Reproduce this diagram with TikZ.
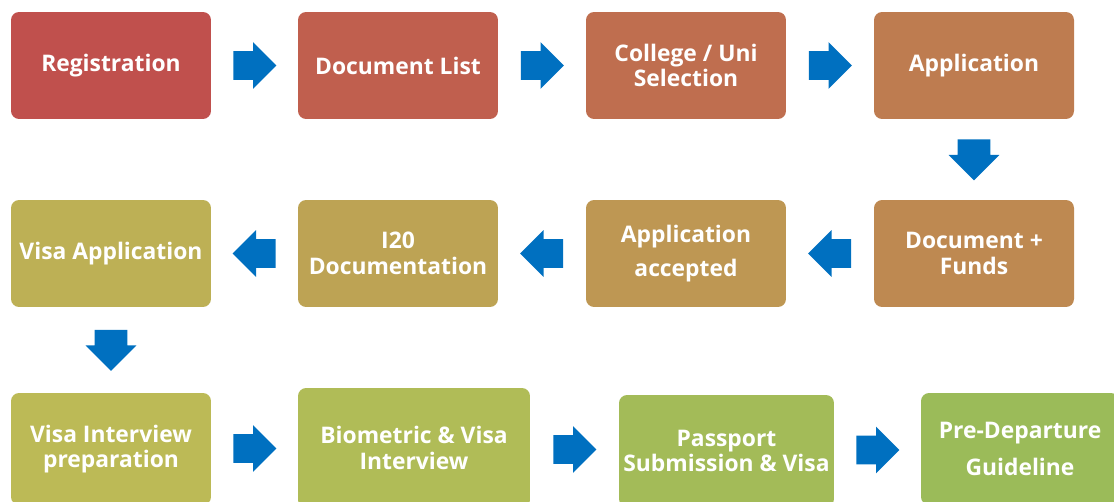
\documentclass[tikz,border=0pt]{standalone}
\usepackage{fontspec}
\setmainfont{Open Sans}
\usetikzlibrary{shapes.arrows,calc}

\definecolor{stage0}{HTML}{C0504D}
\definecolor{stage1}{HTML}{C05F4E}
\definecolor{stage2}{HTML}{BF6E4F}
\definecolor{stage3}{HTML}{BE7C50}
\definecolor{stage4}{HTML}{BE8951}
\definecolor{stage5}{HTML}{BE9753}
\definecolor{stage6}{HTML}{BDA354}
\definecolor{stage7}{HTML}{BDB055}
\definecolor{stage8}{HTML}{BCBA56}
\definecolor{stage9}{HTML}{B0BC57}
\definecolor{stage10}{HTML}{A3BB58}
\definecolor{stage11}{HTML}{9BBB59}
\definecolor{flowblue}{HTML}{0070C0}

\begin{document}
\begin{tikzpicture}[
    x=0.02cm,
    y=-0.02cm,
    stage/.style={
        fill=#1,
        rounded corners=0.16cm,
        text=white,
        font=\bfseries\fontsize{13}{14.7}\selectfont,
        align=center,
        minimum width=4cm,
        minimum height=2.14cm,
        inner sep=0pt
    },
    flow/.style={
        single arrow,
        fill=flowblue,
        anchor=tail,
        minimum height=0.86cm,
        inner xsep=0pt,
        inner ysep=0.28cm,
        single arrow head extend=0.18cm
    },
    flowback/.style={
        flow,
        rotate=180
    },
    flowdown/.style={
        flow,
        rotate=-90,
        minimum height=0.82cm,
        inner ysep=0.32cm
    }
    ]
    \useasboundingbox (0,0) rectangle (1114,502);
    \clip (0,0) rectangle (1114,502);

    % first row
    \node[stage=stage0] (reg)     at (111,65.5) {Registration};
    \node[stage=stage1] (doclist) at (398,65.5) {Document List};
    \node[stage=stage2] (select)  at (686,65.5) {College / Uni\\Selection};
    \node[stage=stage3] (apply)   at (974,65.5) {Application};

    % second row
    \node[stage=stage4] (docfund) at (974,253.5) {Document +\\Funds};
    \node[stage=stage5] (accept)  at (686,253.5) {Application\\[5pt]accepted};
    \node[stage=stage6] (itwenty) at (398,253.5) {I20\\Documentation};
    \node[stage=stage7] (visaapp) at (111,253.5) {Visa Application};

    % third row
    \node[stage=stage8, minimum height=2.24cm] (prep) at (111,449) {Visa Interview\\preparation};
    \node[stage=stage9, minimum width=4.64cm, minimum height=2.4cm] (biometric) at (414,448) {Biometric \& Visa\\Interview};
    \node[stage=stage10, minimum width=4.3cm, minimum height=2.24cm] (passport) at (726.5,451) {Passport\\Submission \& Visa};
    \node[stage=stage11, minimum width=3.96cm, minimum height=2.24cm] (depart) at (1020,449) {Pre-Departure\\[6pt]Guideline};

    % block arrows, tail set half a length before the gap's middle
    \node[flow] (f1) at ($(reg.east)!0.5!(doclist.west)+(-21.5,0)$) {};
    \node[flow] (f2) at ($(doclist.east)!0.5!(select.west)+(-21.5,0)$) {};
    \node[flow] (f3) at ($(select.east)!0.5!(apply.west)+(-21.5,0)$) {};
    \node[flowdown] (f4) at ($(apply.south)!0.5!(docfund.north)+(0,-20.5)$) {};
    \node[flowback] (f5) at ($(docfund.west)!0.5!(accept.east)+(21.5,0)$) {};
    \node[flowback] (f6) at ($(accept.west)!0.5!(itwenty.east)+(21.5,0)$) {};
    \node[flowback] (f7) at ($(itwenty.west)!0.5!(visaapp.east)+(21.5,0)$) {};
    \node[flowdown] (f8) at ($(visaapp.south)!0.5!(prep.north)+(0,-20.5)$) {};
    \node[flow] (f9) at ($(prep.east)!0.5!(biometric.west)+(-21.5,0)$) {};
    \node[flow] (f10) at ($(biometric.east)!0.5!(passport.west)+(-21.5,0)$) {};
    \node[flow] (f11) at ($(passport.east)!0.5!(depart.west)+(-21.5,0)$) {};
\end{tikzpicture}
\end{document}
